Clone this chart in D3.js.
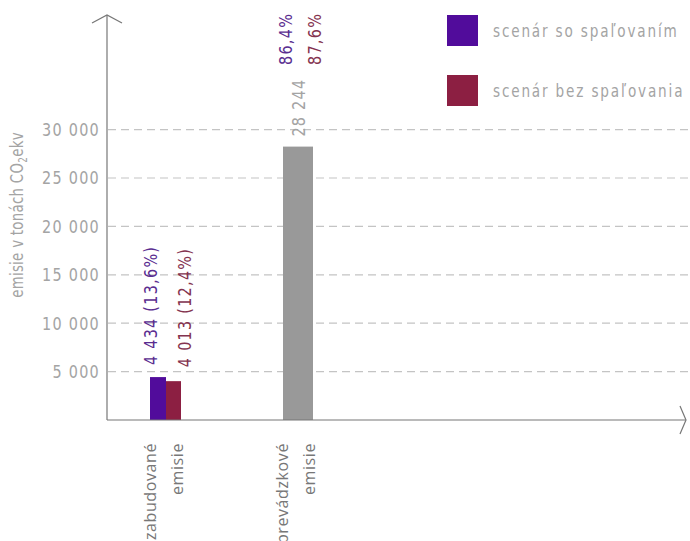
<!DOCTYPE html>
<html>
<head>
<meta charset="utf-8">
<script src="https://cdn.jsdelivr.net/npm/d3@7"></script>
<style>
  body { margin: 0; background: #fff; }
  svg text { font-family: "DejaVu Sans", sans-serif; font-weight: 400; }
  svg text.cat { font-family: "Open Sans", sans-serif; font-weight: 400; }
</style>
</head>
<body>
<svg id="chart" width="690" height="541"></svg>
<script>
// Emissions by category and scenario (tonnes CO2eq)
const categories = ["zabudované emisie", "prevádzkové emisie"];
const categoryLines = [["zabudované", "emisie"], ["prevádzkové", "emisie"]];
const scenarios = ["scenár so spaľovaním", "scenár bez spaľovania"];
const embodied = [4434, 4013];          // per scenario
const embodiedShare = ["13,6%", "12,4%"];
const operational = 28244;              // identical in both scenarios
const operationalShare = ["86,4%", "87,6%"];
const yTicks = [5000, 10000, 15000, 20000, 25000, 30000];

const colors = ["#510c9b", "#8c1f42"];
const textColors = ["#5a2d90", "#84334f"];
const grayBar = "#999999";
const axisGray = "#777";
const labelGray = "#a4a4a4";
const narrow = 0.8; // horizontal squeeze for the drafting-style lettering

const svg = d3.select("#chart");
const x0 = 107, baseY = 420;

const y = d3.scaleLinear().domain([0, 30000]).range([baseY, 129.6]);
const x = d3.scaleBand().domain(categories).range([100, 364]).paddingInner(0).paddingOuter(0);
const fmt = v => d3.format(",")(v).replace(/,/g, " ");

// narrow text placed at (px,py), optionally rotated
function ntext(px, py, rot, opts) {
  const g = svg.append("g")
    .attr("transform", `translate(${px},${py}) rotate(${rot}) scale(${opts.sq || narrow},1)`);
  return g.append("text")
    .attr("text-anchor", opts.anchor || "start")
    .attr("dy", opts.dy || 0)
    .attr("fill", opts.color)
    .attr("font-size", opts.size)
    .attr("letter-spacing", opts.ls);
}

// gridlines
svg.append("g").selectAll("line").data(yTicks).join("line")
  .attr("x1", x0 + 1).attr("x2", 690)
  .attr("y1", d => y(d)).attr("y2", d => y(d))
  .attr("stroke", "#c4c4c4").attr("stroke-width", 1.2)
  .attr("stroke-dasharray", "8,5");

// y tick labels
yTicks.forEach(t => {
  ntext(100, y(t), 0, { anchor: "end", dy: "0.36em", color: labelGray, size: 18, ls: 1.6 }).text(fmt(t));
});

// y axis title
const yt = ntext(23, 215, -90, { anchor: "middle", color: labelGray, size: 18, ls: 0.4, sq: 0.74 });
yt.append("tspan").text("emisie v tonách CO");
yt.append("tspan").attr("font-size", 12).attr("dy", 4).text("2");
yt.append("tspan").attr("dy", -4).text("ekv");

// bars: embodied emissions, one per scenario
const c0 = x(categories[0]) + x.bandwidth() / 2;
const subWidths = [16, 15];
const subX = [c0 - 16, c0];
svg.append("g").selectAll("rect").data(embodied).join("rect")
  .attr("x", (d, i) => subX[i]).attr("width", (d, i) => subWidths[i])
  .attr("y", d => y(d)).attr("height", d => baseY - y(d))
  .attr("fill", (d, i) => colors[i]);

// bar: operational emissions
const c1 = x(categories[1]) + x.bandwidth() / 2;
svg.append("rect")
  .attr("x", c1 - 15).attr("width", 30)
  .attr("y", y(operational)).attr("height", baseY - y(operational))
  .attr("fill", grayBar);

// axes with arrowheads
svg.append("line").attr("x1", x0).attr("x2", x0).attr("y1", baseY).attr("y2", 15)
  .attr("stroke", axisGray).attr("stroke-width", 1.2);
svg.append("path").attr("d", `M${x0 - 15},23 L${x0},15 L${x0 + 15},23`)
  .attr("fill", "none").attr("stroke", axisGray).attr("stroke-width", 1.2);
svg.append("line").attr("x1", x0).attr("x2", 686).attr("y1", baseY).attr("y2", baseY)
  .attr("stroke", axisGray).attr("stroke-width", 1.2);
svg.append("path").attr("d", `M680,406 L686,${baseY} L680,434`)
  .attr("fill", "none").attr("stroke", axisGray).attr("stroke-width", 1.2);

// value labels (vertical)
const vopts = c => ({ color: c, size: 18, ls: 1.6 });
const labelX = [157, 191];
const labelGap = [12, 14];
embodied.forEach((v, i) => {
  ntext(labelX[i], y(v) - labelGap[i], -90, vopts(textColors[i]))
    .text(`${fmt(v)} (${embodiedShare[i]})`);
});
ntext(c1 + 7, y(operational) - 10, -90, vopts(labelGray)).text(fmt(operational));
operationalShare.forEach((s, i) => {
  ntext(c1 - 6 + i * 29, 65, -90, vopts(textColors[i])).text(s);
});

// category labels (vertical, two lines each)
categories.forEach((c, ci) => {
  const cx = x(c) + x.bandwidth() / 2;
  categoryLines[ci].forEach((ln, li) => {
    svg.append("text").attr("class", "cat")
      .attr("transform", `translate(${cx - 10 + li * 27},443) rotate(-90)`)
      .attr("text-anchor", "end").attr("fill", "#777")
      .attr("font-size", 16).attr("letter-spacing", 0.6)
      .text(ln);
  });
});

// legend
scenarios.forEach((s, i) => {
  const g = svg.append("g").attr("transform", `translate(447,${15 + i * 60})`);
  g.append("rect").attr("width", 31).attr("height", 31).attr("fill", colors[i]);
  ntext(447 + 46, 15 + i * 60 + 16, 0, { dy: "0.35em", color: labelGray, size: 17, ls: 2.3 }).text(s);
});
</script>
</body>
</html>
